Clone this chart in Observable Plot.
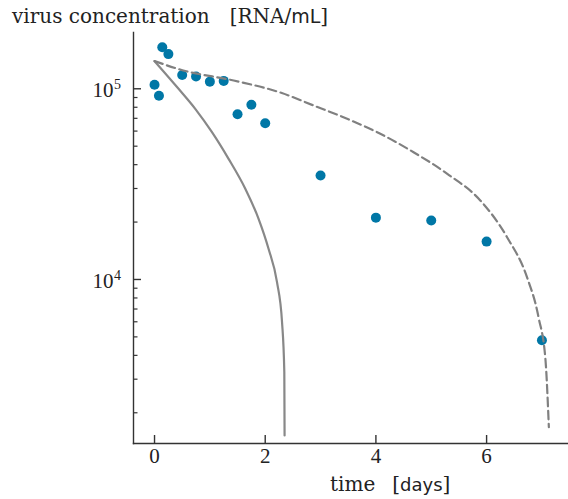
<!DOCTYPE html>
<html><head><meta charset="utf-8">
<script src="https://cdn.jsdelivr.net/npm/d3@7"></script>
<script src="https://cdn.jsdelivr.net/npm/@observablehq/plot@0.6"></script>
<style>body{margin:0;background:#fff}#chart{width:568px;height:499px}</style>
</head><body><div id="chart"></div>
<script>
// measured data (time in days, concentration in RNA/mL)
const times = [0, 0.08, 0.14, 0.25, 0.5, 0.75, 1, 1.25, 1.5, 1.75, 2, 3, 4, 5, 6, 7];
const concentrations = [105000, 92000, 165000, 152000, 118000, 116000, 109000, 110000, 73600, 82400, 66000, 35100, 21100, 20400, 15800, 4800];
// model curve (solid)
const solidTimes = [0, 0.434, 0.736, 1.038, 1.338, 1.64, 1.88, 2.06, 2.213, 2.304, 2.345, 2.35];
const solidConc = [139700, 100000, 78500, 59200, 42900, 29900, 20800, 14490, 9680, 5970, 3270, 1520];
// model curve (dashed)
const dashedTimes = [0, 0.52, 1.43, 2.3, 2.875, 3.48, 4.08, 4.68, 5.29, 5.89, 6.37, 6.73, 6.94, 7.065, 7.125];
const dashedConc = [139700, 124800, 110500, 95000, 81700, 69600, 58100, 46500, 35800, 25900, 16660, 10280, 6310, 3760, 1680];
// ticks
const xTicks = [0, 2, 4, 6];
const yMajorTicks = [1e4, 1e5];
const yMinorTicks = [2000, 3000, 4000, 5000, 6000, 7000, 8000, 9000, 20000, 30000, 40000, 50000, 60000, 70000, 80000, 90000];

const points = times.map((t, i) => ({t, c: concentrations[i]}));
const solid = solidTimes.map((t, i) => ({t, c: solidConc[i]}));
const dashed = dashedTimes.map((t, i) => ({t, c: dashedConc[i]}));

const W = 568, H = 499, mL = 133, mR = 0, mT = 32, mB = 56;
const serif = "'Liberation Serif', 'DejaVu Serif', serif";
const labelSerif = "'DejaVu Serif', 'Liberation Serif', serif";
const sans = "'DejaVu Sans', 'Liberation Sans', sans-serif";
const axisColor = "#333";

const chart = Plot.plot({
  width: W, height: H,
  marginLeft: mL, marginRight: mR, marginTop: mT, marginBottom: mB,
  style: {fontFamily: serif, fontSize: "21px", color: "#222", background: "#fff", overflow: "visible"},
  x: {domain: [-0.38, 7.48], axis: null},
  y: {type: "log", domain: [1380, 197300], axis: null},
  marks: [
    Plot.dot(points, {x: "t", y: "c", r: 5, fill: "#0077a6", stroke: "none"}),
    Plot.line(solid, {x: "t", y: "c", stroke: "#888", strokeWidth: 2.2, curve: "monotone-x"}),
    Plot.line(dashed, {x: "t", y: "c", stroke: "#808080", strokeWidth: 2.2, strokeDasharray: "8.5,4.5", curve: "monotone-x"}),
    Plot.frame({anchor: "left", stroke: axisColor, strokeWidth: 1.4}),
    Plot.frame({anchor: "bottom", stroke: axisColor, strokeWidth: 1.4}),
    Plot.tickX(xTicks, {x: d => d, insetTop: H - mT - mB - 8, stroke: axisColor, strokeWidth: 1.4}),
    Plot.tickY(yMajorTicks, {y: d => d, insetRight: W - mL - mR - 8, stroke: axisColor, strokeWidth: 1.4}),
    Plot.tickY(yMinorTicks, {y: d => d, insetRight: W - mL - mR - 4.5, stroke: axisColor, strokeWidth: 1.2}),
    Plot.text(xTicks, {x: d => d, frameAnchor: "bottom", dy: 19, text: d => String(d), fill: "#222"}),
    Plot.text(yMajorTicks, {y: d => d, frameAnchor: "left", dx: -20, dy: 1.5, textAnchor: "end", text: () => "10", fill: "#222"}),
    Plot.text(yMajorTicks, {y: d => d, frameAnchor: "left", dx: -19.5, dy: -4, textAnchor: "start", fontSize: 14, text: d => String(Math.round(Math.log10(d))), fill: "#222"})
  ]
});
document.getElementById("chart").appendChild(chart);

const svg = d3.select(chart);
const title = svg.append("text").attr("x", 12).attr("y", 23).attr("text-anchor", "start")
  .attr("font-family", labelSerif).attr("font-size", 20).attr("fill", "#222");
title.append("tspan").text("virus concentration");
title.append("tspan").attr("dx", 20).text("[RNA/");
title.append("tspan").attr("font-family", sans).attr("font-size", 19).text("mL");
title.append("tspan").text("]");

const xl = svg.append("text").attr("x", 330).attr("y", 491).attr("text-anchor", "start")
  .attr("font-family", labelSerif).attr("font-size", 20).attr("fill", "#222");
xl.append("tspan").text("time");
xl.append("tspan").attr("dx", 17).text("[");
xl.append("tspan").attr("font-family", sans).attr("font-size", 18).text("days");
xl.append("tspan").text("]");
</script>
</body></html>
